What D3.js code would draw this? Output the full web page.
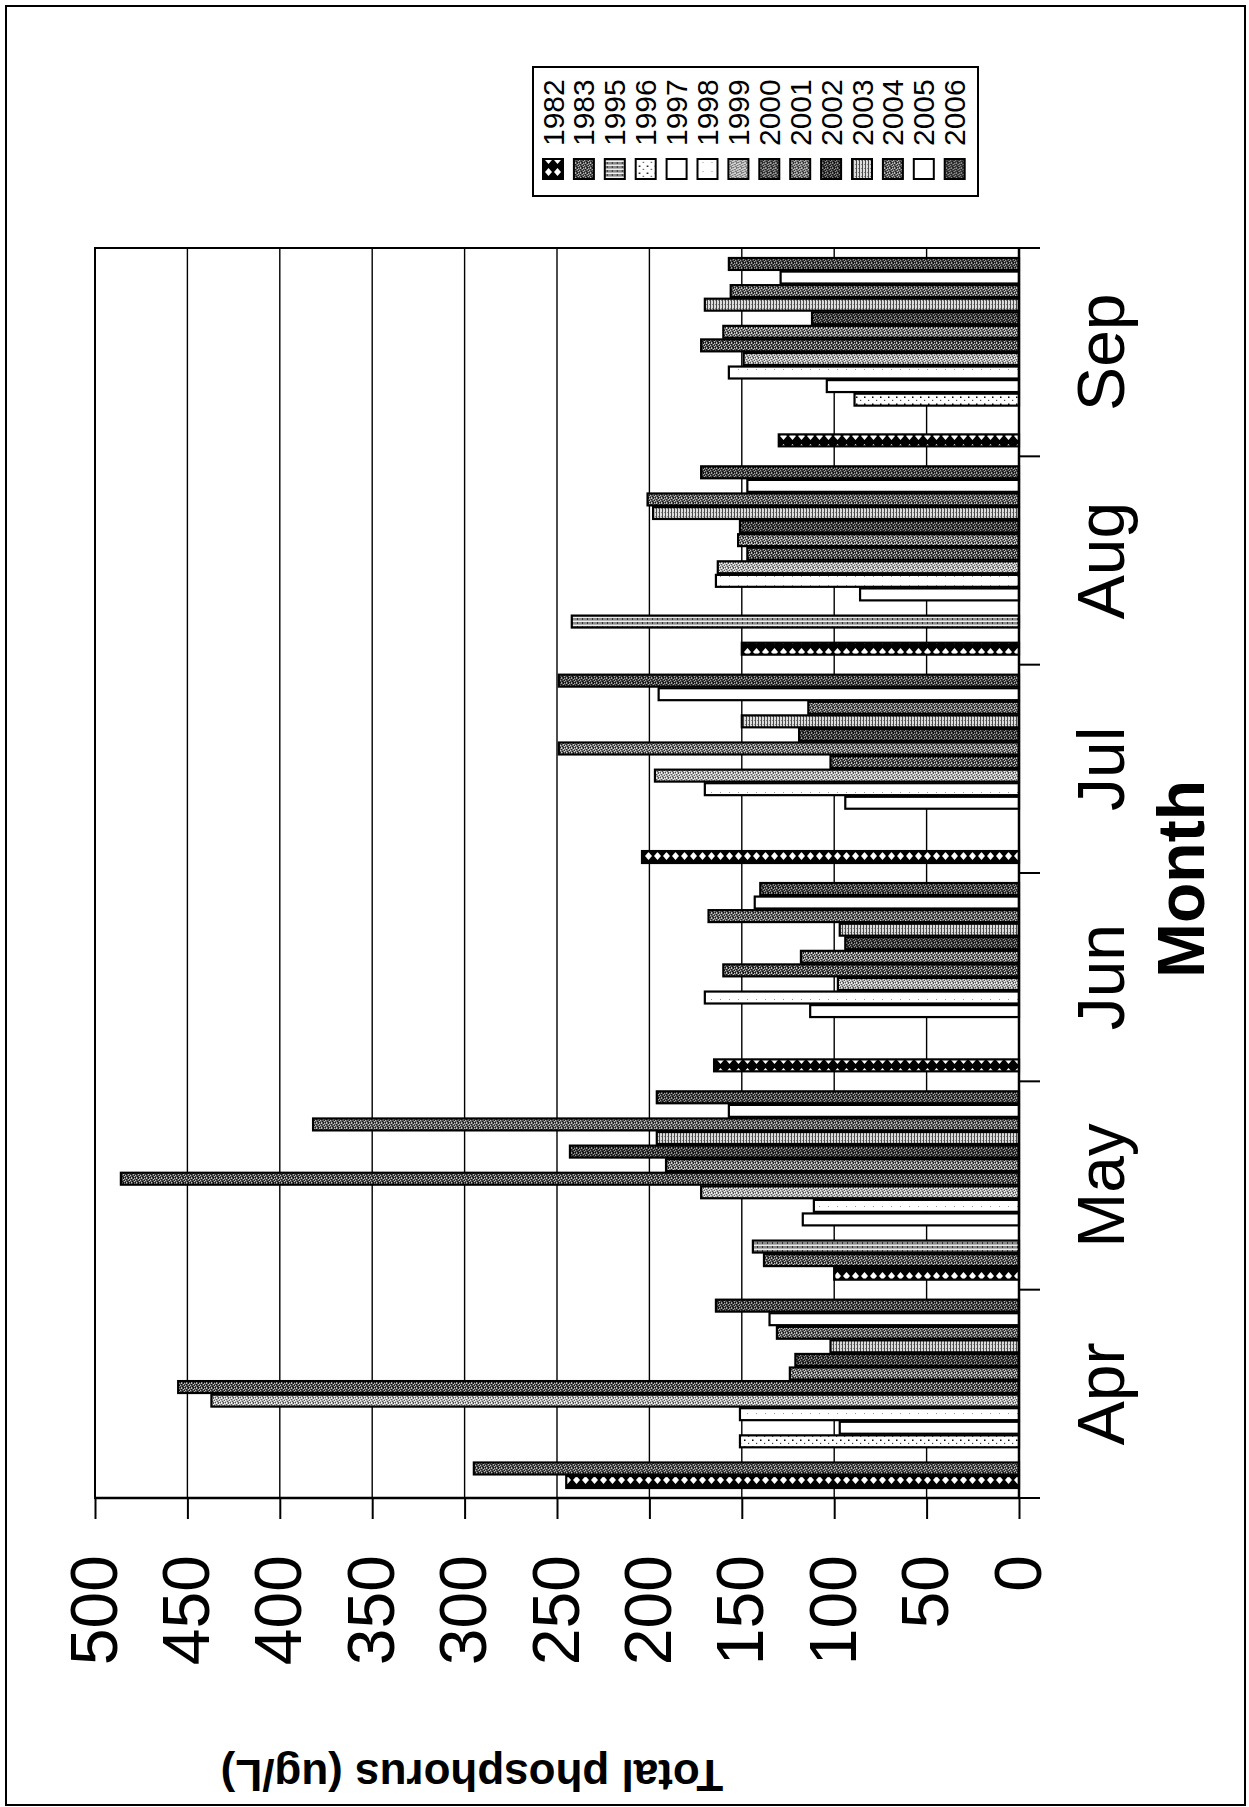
<!DOCTYPE html>
<html>
<head>
<meta charset="utf-8">
<script src="https://cdn.jsdelivr.net/npm/d3@7"></script>
<style>
  html, body { margin: 0; padding: 0; background: #fff; }
  svg { display: block; }
  text { font-family: "Liberation Sans", Arial, sans-serif; fill: #000; }
</style>
</head>
<body>
<script>
// Monthly total phosphorus (ug/L) by sampling year
const months = ["Apr", "May", "Jun", "Jul", "Aug", "Sep"];
const years = ["1982", "1983", "1995", "1996", "1997", "1998", "1999",
               "2000", "2001", "2002", "2003", "2004", "2005", "2006"];
const valueTicks = [0, 50, 100, 150, 200, 250, 300, 350, 400, 450, 500];

// values in month order; null = not sampled that month
const tp1982 = [245, 100, 165, 204, 150, 130];
const tp1983 = [295, 138, null, null, null, null];
const tp1995 = [null, 144, null, null, 242, null];
const tp1996 = [151, null, null, null, null, 89];
const tp1997 = [97, 117, 113, 94, 86, 104];
const tp1998 = [151, 111, 170, 170, 164, 157];
const tp1999 = [437, 172, 98, 197, 163, 149];
const tp2000 = [455, 486, 160, 102, 147, 172];
const tp2001 = [124, 191, 118, 249, 152, 160];
const tp2002 = [121, 243, 94, 119, 151, 112];
const tp2003 = [102, 196, 97, 150, 198, 170];
const tp2004 = [131, 382, 168, 114, 201, 156];
const tp2005 = [135, 157, 143, 195, 147, 129];
const tp2006 = [164, 196, 140, 249, 172, 157];

const seriesValues = [tp1982, tp1983, tp1995, tp1996, tp1997, tp1998, tp1999,
                      tp2000, tp2001, tp2002, tp2003, tp2004, tp2005, tp2006];

const series = years.map((yr, i) => ({ year: yr, values: seriesValues[i] }));

// page and plot geometry (the column chart is laid on its side)
const pageW = 1249, pageH = 1807;
const plot = { left: 95, top: 248, right: 1019, bottom: 1498 };
const W = plot.bottom - plot.top;   // category extent
const H = plot.right - plot.left;   // value extent

const svg = d3.select("body").append("svg")
  .attr("width", pageW).attr("height", pageH);

// ---- fill textures for each year ----
const defs = svg.append("defs");
function texture(id, w, h, bg, marks) {
  const p = defs.append("pattern").attr("id", id)
    .attr("patternUnits", "userSpaceOnUse").attr("width", w).attr("height", h);
  p.append("rect").attr("width", w).attr("height", h).attr("fill", bg);
  marks.forEach(m => {
    if (m.d) p.append("path").attr("d", m.d).attr("fill", m.fill);
    else p.append("rect").attr("x", m.x).attr("y", m.y)
      .attr("width", m.w || 1).attr("height", m.h || 1).attr("fill", m.fill);
  });
}
function speckle(id, bg, dark, light) {
  const darkPts = [[0,0],[3,1],[1,2],[4,3],[2,4],[0,3]];
  const lightPts = [[2,0],[4,1],[0,1],[3,3],[1,4],[4,4]];
  texture(id, 5, 5, bg,
    darkPts.map(([x, y]) => ({ x, y, fill: dark }))
      .concat(lightPts.map(([x, y]) => ({ x, y, fill: light }))));
}
texture("f1982", 12, 9, "#000", [{ d: "M6,1 L10,4.5 L6,8 L2,4.5 Z", fill: "#fff" }]);
speckle("f1983", "#555", "#161616", "#b8b8b8");
texture("f1995", 4, 5, "#8a8a8a", [
  { x: 0, y: 0, w: 1.4, h: 5, fill: "#f0f0f0" },
  { x: 2, y: 2, w: 2, h: 1, fill: "#333" }]);
texture("f1996", 7, 8, "#fff", [
  { x: 1, y: 1, w: 1.5, h: 1.5, fill: "#000" },
  { x: 5, y: 5, w: 1.2, h: 1.2, fill: "#444" }]);
texture("f1997", 4, 4, "#fff", []);
texture("f1998", 9, 9, "#fff", [{ x: 3, y: 4, w: 1, h: 1, fill: "#999" }]);
speckle("f1999", "#b0b0b0", "#555", "#f2f2f2");
speckle("f2000", "#505050", "#111", "#c0c0c0");
speckle("f2001", "#767676", "#222", "#d4d4d4");
speckle("f2002", "#3c3c3c", "#0a0a0a", "#959595");
texture("f2003", 4, 3, "#dcdcdc", [
  { x: 0, y: 0, w: 4, h: 1, fill: "#4a4a4a" },
  { x: 1, y: 2, w: 1, h: 1, fill: "#888" }]);
speckle("f2004", "#626262", "#1c1c1c", "#c0c0c0");
texture("f2005", 4, 4, "#fff", []);
speckle("f2006", "#464646", "#0e0e0e", "#a2a2a2");

// chart area border
svg.append("rect")
  .attr("x", 6).attr("y", 6).attr("width", 1239).attr("height", 1799)
  .attr("fill", "none").attr("stroke", "#000").attr("stroke-width", 2);

// chart frame, turned a quarter-turn counter-clockwise on the page
const g = svg.append("g")
  .attr("transform", `translate(${plot.left},${plot.bottom}) rotate(-90)`);

const x0 = d3.scaleBand().domain(months).range([0, W]);
const x1 = d3.scaleBand().domain(years)
  .range([10, x0.bandwidth() - 10]).paddingInner(0.12);
const y = d3.scaleLinear().domain([0, 500]).range([H, 0]);

// gridlines
g.append("g").selectAll("line").data(valueTicks).join("line")
  .attr("x1", 0).attr("x2", W)
  .attr("y1", d => y(d)).attr("y2", d => y(d))
  .attr("stroke", "#000").attr("stroke-width", 1.4);

// plot area frame
g.append("rect").attr("x", 0).attr("y", 0).attr("width", W).attr("height", H)
  .attr("fill", "none").attr("stroke", "#000").attr("stroke-width", 2);

// bars
const groups = g.append("g").selectAll("g").data(series).join("g")
  .attr("fill", d => `url(#f${d.year})`);
groups.selectAll("rect")
  .data(d => d.values.map((v, i) => ({ month: months[i], value: v, year: d.year }))
    .filter(d => d.value != null))
  .join("rect")
  .attr("x", d => x0(d.month) + x1(d.year))
  .attr("y", d => y(d.value))
  .attr("width", x1.bandwidth())
  .attr("height", d => H - y(d.value))
  .attr("stroke", "#000").attr("stroke-width", 2.2);

// value axis
const yAxis = g.append("g")
  .call(d3.axisLeft(y).tickValues(valueTicks).tickFormat(d3.format("d"))
    .tickSize(21).tickPadding(36));
yAxis.select(".domain").remove();
yAxis.selectAll("line").attr("stroke", "#000").attr("stroke-width", 2);
yAxis.selectAll("text").attr("font-size", 66).style("font-family", "Liberation Sans, Arial, sans-serif");
g.append("line").attr("x1", 0).attr("x2", 0).attr("y1", 0).attr("y2", H)
  .attr("stroke", "#000").attr("stroke-width", 2.5);

// category axis
const xAxis = g.append("g").attr("transform", `translate(0,${H})`)
  .call(d3.axisBottom(x0).tickSize(0).tickPadding(58));
xAxis.select(".domain").remove();
xAxis.selectAll("text").attr("font-size", 66).style("font-family", "Liberation Sans, Arial, sans-serif");
g.append("line").attr("x1", 0).attr("x2", W).attr("y1", H).attr("y2", H)
  .attr("stroke", "#000").attr("stroke-width", 2.5);
const bounds = [0].concat(months.map(m => x0(m) + x0.bandwidth()));
g.append("g").selectAll("line").data(bounds).join("line")
  .attr("x1", d => d).attr("x2", d => d)
  .attr("y1", H).attr("y2", H + 21)
  .attr("stroke", "#000").attr("stroke-width", 2);

// axis titles
g.append("text")
  .attr("x", 619).attr("y", 1109)
  .attr("text-anchor", "middle").attr("font-size", 66).attr("font-weight", "bold")
  .text("Month");
g.append("text")
  .attr("transform", "translate(-262,377) rotate(-90)")
  .attr("text-anchor", "middle").attr("font-size", 44).attr("font-weight", "bold")
  .text("Total phosphorus (ug/L)");

// legend
const legend = g.append("g");
legend.append("rect")
  .attr("x", 1302).attr("y", 438).attr("width", 129).attr("height", 445)
  .attr("fill", "#fff").attr("stroke", "#000").attr("stroke-width", 2);
const legendStep = 30.9;
const items = legend.selectAll("g.item").data(years).join("g")
  .attr("class", "item")
  .attr("transform", (d, i) => `translate(0,${458 + i * legendStep})`);
items.append("rect")
  .attr("x", 1319).attr("y", -10).attr("width", 20).attr("height", 20)
  .attr("fill", d => `url(#f${d})`).attr("stroke", "#000").attr("stroke-width", 2);
items.append("text")
  .attr("x", 1352).attr("y", 10.5)
  .attr("font-size", 30)
  .text(d => d);
</script>
</body>
</html>
